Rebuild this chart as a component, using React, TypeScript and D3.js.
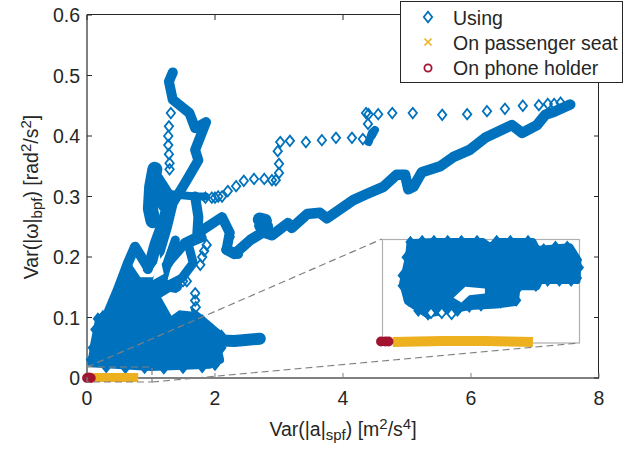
import React from "react";
import * as d3 from "d3";

type P = [number, number];

const xTicks = [0, 2, 4, 6, 8];
const yTicks = [0, 0.1, 0.2, 0.3, 0.4, 0.5, 0.6];
const legendLabels = ["Using", "On passenger seat", "On phone holder"];

const usingLongTrace: P[] = [[2.18,.212],[2.3,.205],[2.36,.21],[2.55,.228],[2.75,.241],[2.89,.236],[3.14,.256],[3.2,.248],[3.44,.271],[3.64,.273],[3.75,.264],[4.16,.294],[4.37,.304],[4.63,.316],[4.84,.336],[4.97,.336],[5.02,.312],[5.1,.316],[5.23,.34],[5.52,.35],[5.72,.365],[5.98,.377],[6.22,.397],[6.64,.418],[6.8,.405],[7.03,.418],[7.16,.435],[7.3,.44],[7.55,.452]];
const usingBlobTrace: P[] = [[2.72,.252],[2.78,.26],[2.7,.262],[2.8,.25]];
const usingUpperTrace: P[] = [[1.34,.505],[1.28,.49],[1.34,.46],[1.6,.438],[1.69,.413],[1.86,.423],[1.69,.377],[1.74,.36],[1.53,.322],[1.34,.289],[1.25,.25],[1.14,.21],[.95,.183],[.75,.217],[.64,.19],[.48,.145],[.33,.107]];
const usingLeftTrace: P[] = [[1.06,.345],[1.01,.316],[.99,.28],[1.03,.26]];
const usingClump: P[] = [[1.1,.33],[1.28,.3],[1.2,.285],[1.1,.31]];
const usingInnerTrace: P[] = [[1.27,.294],[1.19,.261],[1.06,.223],[.95,.18]];
const usingMidTrace: P[] = [[1.69,.3],[1.74,.266],[1.72,.233],[1.53,.223],[1.3,.195],[1.06,.157]];
const usingRightTrace: P[] = [[1.2,.305],[1.69,.3],[1.85,.3]];
const usingBranchTrace: P[] = [[1.72,.233],[1.81,.245],[2.11,.266],[2.23,.24],[2.18,.212],[2.36,.205]];
const usingStemTrace: P[] = [[1.38,.228],[1.27,.195],[1.18,.16]];
const usingLowerTrace: P[] = [[1.8,.232],[1.58,.222],[1.66,.19],[1.48,.165],[1.3,.155]];
const usingTailTrace: P[] = [[1.9,.063],[2.3,.061],[2.7,.065]];
const usingMassOutline: P[] = [[.07,.025],[.12,.06],[.19,.097],[.33,.108],[.48,.145],[.64,.185],[.8,.16],[1.03,.16],[1.3,.155],[1.42,.15],[1.17,.134],[1.34,.107],[1.6,.112],[1.81,.095],[2.02,.076],[2.1,.07],[2.1,.05],[2.05,.044],[2.08,.03],[1.92,.022],[1,.018],[.12,.024]];
const usingMassGap: P[] = [[1.03,.162],[1.13,.205],[1.2,.172]];
const usingMidGap: P[] = [[1.16,.133],[1.3,.142],[1.56,.137],[1.63,.11],[1.44,.112],[1.32,.103]];
const usingSparse: P[] = [[1.31,.438],[1.28,.416],[1.27,.4],[1.27,.385],[1.28,.37],[1.29,.355],[1.29,.345],[1.85,.298],[1.95,.298],[2,.298],[2.05,.3],[2.11,.3],[2.2,.309],[2.33,.317],[2.45,.326],[2.61,.329],[2.77,.329],[2.89,.327],[2.95,.327],[3,.339],[3,.354],[2.98,.375],[3.02,.39],[3.17,.392],[3.42,.39],[3.67,.393],[3.89,.397],[4.14,.397],[4.31,.395],[4.39,.42],[4.36,.438],[4.4,.436],[4.55,.436],[4.77,.438],[5.09,.438],[5.55,.435],[5.94,.436],[6.25,.441],[6.53,.445],[6.81,.45],[7.06,.451],[7.2,.453],[7.3,.453],[7.4,.455],[1.69,.14],[1.69,.128],[1.7,.117],[1.8,.2],[1.77,.187],[1.87,.22],[2.23,.233],[1.83,.21],[1.5,.16],[1.56,.16]];
const usingEdge: P[] = [[.06,.03],[.09,.05],[.13,.08],[.17,.098],[.25,.102],[.34,.11],[.42,.13],[.5,.15],[.58,.17],[.64,.19],[1.8,.095],[1.95,.08],[2.1,.07],[2.1,.05],[2,.022],[1.8,.018],[1.5,.017],[1.2,.016],[.9,.017],[.6,.017],[.3,.018]];
const usingFarBlob: P[] = [[4.45,.4],[4.5,.41],[4.45,.405],[4.4,.39]];
const seatTrace: P[] = [[.1,.001],[.8,.001]];
const holderPoints: P[] = [[0,0],[.03,.001],[.06,0]];

const insetXDomain: [number, number] = [0, 1];
const insetYDomain: [number, number] = [0, 0.02];
const insetOutline: P[] = [[.138,.0193],[.255,.0195],[.51,.0195],[.546,.0185],[.58,.0195],[.765,.0195],[.785,.018],[.954,.0185],[.995,.016],[.99,.012],[.8,.012],[.785,.0108],[.684,.0108],[.675,.0078],[.58,.0073],[.444,.007],[.224,.0055],[.125,.008],[.1,.0115],[.13,.0165]];
const insetGap: P[] = [[.36,.0087],[.42,.0108],[.52,.0105],[.52,.0095],[.44,.0092],[.4,.0078]];
const insetSeat: P[] = [[.05,.0002],[.3,.0004],[.52,.0004],[.765,.0002]];
const insetHolder: P[] = [[-.01,.0003],[.012,.0003],[.028,.0003]];
const insetDiamonds: P[] = [[.14,.0194],[.2,.0196],[.26,.0196],[.33,.0196],[.4,.0196],[.48,.0196],[.58,.0196],[.65,.0196],[.74,.0196],[.82,.018],[.88,.0185],[.94,.0185],[.99,.016],[1,.0145],[.99,.0125],[.96,.012],[.9,.012],[.84,.012],[.78,.011],[.7,.011],[.68,.0082],[.6,.0078],[.5,.0072],[.44,.007],[.38,.0062],[.34,.0062],[.29,.0062],[.23,.0055],[.18,.0062],[.13,.0082],[.1,.011],[.1,.013],[.12,.0165]];
const insetSparseGap: P[] = [[.245,.0058],[.3,.0058],[.35,.0056]];

const BLUE = "#0072BD";
const YELLOW = "#EDB120";
const RED = "#A2142F";
const GRAY = "#808080";
const FONT = "'Liberation Sans', Arial, sans-serif";
const TEXT = "#262626";
const DIAMOND = "M0,-5.2L4.2,0L0,5.2L-4.2,0Z";

const x = d3.scaleLinear().domain([0, 8]).range([87, 599]);
const y = d3.scaleLinear().domain([0, 0.6]).range([378, 15]);
const ix = d3.scaleLinear().domain(insetXDomain).range([383, 579]);
const iy = d3.scaleLinear().domain(insetYDomain).range([343, 239]);

const line = d3.line<P>().x(d => x(d[0])).y(d => y(d[1]));
const iline = d3.line<P>().x(d => ix(d[0])).y(d => iy(d[1]));

const strands: [P[], number][] = [
  [usingLongTrace, 10.5], [usingUpperTrace, 10], [usingLeftTrace, 15], [usingClump, 12], [usingInnerTrace, 10],
  [usingMidTrace, 10], [usingBranchTrace, 10], [usingStemTrace, 9], [usingLowerTrace, 9], [usingRightTrace, 8], [usingTailTrace, 12],
];

export default function App() {
  return (
    <svg width={644} height={450} viewBox="0 0 644 450" style={{ position: "absolute", left: 0, top: 0, display: "block", background: "#fff" }} fontFamily={FONT}>
      {/* axes */}
      <line x1={87} x2={87} y1={14.5} y2={378} stroke={GRAY} strokeWidth={2} />
      <line x1={87} x2={599} y1={378} y2={378} stroke={GRAY} strokeWidth={2} />
      <line x1={87} x2={599} y1={14.5} y2={14.5} stroke={TEXT} strokeWidth={1} />
      <line x1={598.5} x2={598.5} y1={14} y2={378} stroke={TEXT} strokeWidth={1} />
      {xTicks.map(t => (
        <g key={t}>
          <line x1={x(t)} x2={x(t)} y1={378} y2={373} stroke={GRAY} strokeWidth={1} />
          <line x1={x(t)} x2={x(t)} y1={15} y2={20} stroke={TEXT} strokeWidth={1} />
          <text x={x(t)} y={405} fontSize={19.5} textAnchor="middle" fill={TEXT}>{t}</text>
        </g>
      ))}
      {yTicks.map(t => (
        <g key={t}>
          <line x1={87} x2={92} y1={y(t)} y2={y(t)} stroke={TEXT} strokeWidth={1} />
          <line x1={594} x2={599} y1={y(t)} y2={y(t)} stroke={TEXT} strokeWidth={1} />
          <text x={80} y={y(t) + 7} fontSize={19.5} textAnchor="end" fill={TEXT}>{t}</text>
        </g>
      ))}
      <text x={343} y={436} fontSize={19.5} textAnchor="middle" fill={TEXT}>
        Var(|a|<tspan fontSize={15} dy={4}>spf</tspan><tspan dy={-4}>) [m</tspan><tspan fontSize={15} dy={-7}>2</tspan><tspan dy={7}>/s</tspan><tspan fontSize={15} dy={-7}>4</tspan><tspan dy={7}>]</tspan>
      </text>
      <text transform="translate(38,197) rotate(-90)" fontSize={19.5} textAnchor="middle" fill={TEXT}>
        Var(|ω|<tspan fontSize={15} dy={4}>bpf</tspan><tspan dy={-4}>) [rad</tspan><tspan fontSize={15} dy={-7}>2</tspan><tspan dy={7}>/s</tspan><tspan fontSize={15} dy={-7}>2</tspan><tspan dy={7}>]</tspan>
      </text>

      {/* main marks */}
      <path d={line(usingMassOutline)! + "Z"} fill={BLUE} stroke={BLUE} strokeWidth={8} strokeLinejoin="round" />
      {strands.map(([s, w], i) => (
        <path key={i} d={line(s)!} fill="none" stroke={BLUE} strokeWidth={w} strokeLinejoin="round" strokeLinecap="round" />
      ))}
      <path d={line(usingMassGap)! + "Z"} fill="#fff" />
      <path d={line(usingMidGap)! + "Z"} fill="#fff" />
      <path d={line(usingBlobTrace)!} fill="none" stroke={BLUE} strokeWidth={14} strokeLinecap="round" strokeLinejoin="round" />
      <path d={line(usingFarBlob)!} fill="none" stroke={BLUE} strokeWidth={8} strokeLinecap="round" strokeLinejoin="round" />
      {usingEdge.map((d, i) => (
        <path key={i} d={DIAMOND} transform={`translate(${x(d[0])},${y(d[1])})`} fill={BLUE} stroke={BLUE} strokeWidth={1.6} />
      ))}
      {usingSparse.map((d, i) => (
        <path key={i} d={DIAMOND} transform={`translate(${x(d[0])},${y(d[1])})`} fill="none" stroke={BLUE} strokeWidth={1.8} />
      ))}
      <path d={line(seatTrace)!} fill="none" stroke={YELLOW} strokeWidth={9} />
      {holderPoints.map((d, i) => (
        <circle key={i} cx={x(d[0])} cy={y(d[1])} r={3.6} fill="none" stroke={RED} strokeWidth={2.6} />
      ))}

      {/* inset */}
      <rect x={382.5} y={239.5} width={197} height={103.5} fill="#fff" stroke="#b0b0b0" strokeWidth={1.2} />
      <path d={iline(insetOutline)! + "Z"} fill={BLUE} stroke={BLUE} strokeWidth={7} strokeLinejoin="round" />
      {insetDiamonds.map((d, i) => (
        <path key={i} d={DIAMOND} transform={`translate(${ix(d[0])},${iy(d[1])})`} fill={BLUE} stroke={BLUE} strokeWidth={1.4} />
      ))}
      <path d={iline(insetGap)! + "Z"} fill="#fff" />
      {insetSparseGap.map((d, i) => (
        <path key={i} d={DIAMOND} transform={`translate(${ix(d[0])},${iy(d[1])})`} fill="#fff" stroke={BLUE} strokeWidth={1.8} />
      ))}
      <path d={iline(insetSeat)!} fill="none" stroke={YELLOW} strokeWidth={10} />
      {insetHolder.map((d, i) => (
        <circle key={i} cx={ix(d[0])} cy={iy(d[1])} r={4} fill={RED} stroke={RED} strokeWidth={2} />
      ))}

      {/* zoom guides */}
      <rect x={87} y={367} width={65} height={15} fill="none" stroke={GRAY} strokeWidth={1.2} strokeDasharray="7 4" />
      <line x1={87} y1={367} x2={382} y2={239} stroke={GRAY} strokeWidth={1.2} strokeDasharray="7 4" />
      <line x1={152} y1={382} x2={579} y2={343} stroke={GRAY} strokeWidth={1.2} strokeDasharray="7 4" />

      {/* legend */}
      <rect x={400.5} y={1.5} width={222} height={81} fill="#fff" stroke={TEXT} strokeWidth={1} />
      <path d={DIAMOND} transform="translate(428,17)" fill="none" stroke={BLUE} strokeWidth={1.8} />
      <path d="M-3.5,-3.5L3.5,3.5M-3.5,3.5L3.5,-3.5" transform="translate(428,42)" fill="none" stroke={YELLOW} strokeWidth={1.6} />
      <circle cx={428} cy={68} r={3.6} fill="none" stroke={RED} strokeWidth={1.8} />
      {legendLabels.map((l, i) => (
        <text key={l} x={453} y={25 + i * 25} fontSize={19.5} fill={TEXT}>{l}</text>
      ))}
    </svg>
  );
}
